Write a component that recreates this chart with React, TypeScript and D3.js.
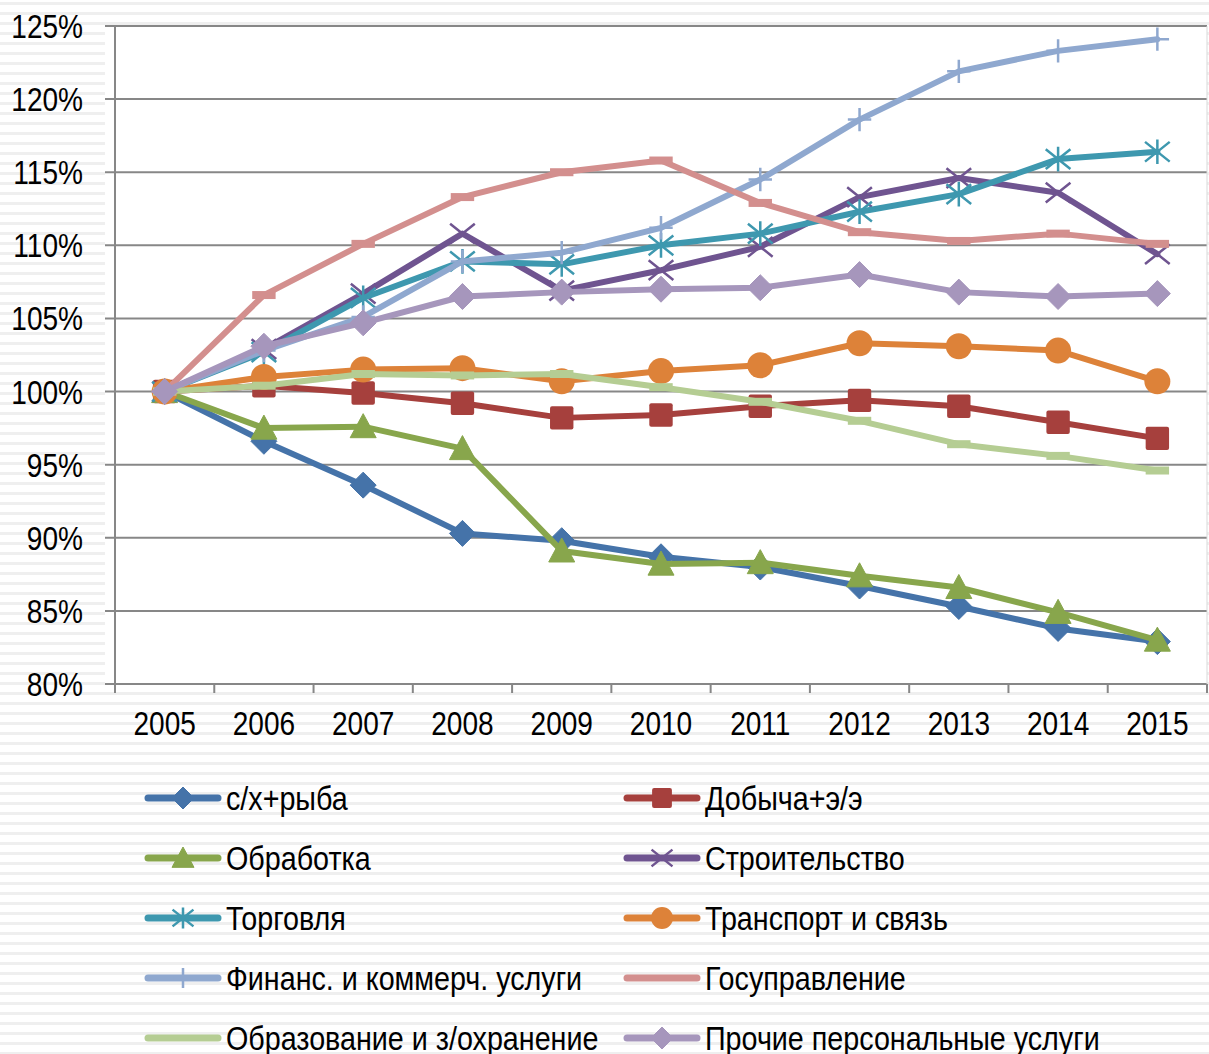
import React from 'react';
import * as d3 from 'd3';

const years = ['2005', '2006', '2007', '2008', '2009', '2010', '2011', '2012', '2013', '2014', '2015'];
const yTickValues = [80, 85, 90, 95, 100, 105, 110, 115, 120, 125];

const agriFish = [100, 96.6, 93.6, 90.3, 89.8, 88.7, 88.0, 86.7, 85.3, 83.8, 82.9];
const miningEnergy = [100, 100.4, 99.9, 99.2, 98.2, 98.4, 99.0, 99.4, 99.0, 97.9, 96.8];
const manufacturing = [100, 97.5, 97.6, 96.1, 89.1, 88.2, 88.3, 87.4, 86.6, 84.9, 83.0];
const construction = [100, 102.9, 106.7, 110.8, 106.9, 108.3, 109.9, 113.3, 114.6, 113.6, 109.4];
const trade = [100, 102.7, 106.4, 108.9, 108.7, 110.0, 110.8, 112.3, 113.5, 115.9, 116.4];
const transport = [100, 101.0, 101.5, 101.6, 100.7, 101.4, 101.8, 103.3, 103.1, 102.8, 100.7];
const finance = [100, 102.8, 105.1, 108.9, 109.5, 111.2, 114.5, 118.6, 121.9, 123.3, 124.1];
const government = [100, 106.6, 110.1, 113.3, 115.0, 115.8, 112.9, 110.9, 110.3, 110.8, 110.1];
const education = [100, 100.4, 101.2, 101.1, 101.2, 100.3, 99.3, 98.0, 96.4, 95.6, 94.6];
const otherServices = [100, 103.1, 104.7, 106.5, 106.8, 107.0, 107.1, 108.0, 106.8, 106.5, 106.7];

const seriesNames = [
  'с/х+рыба',
  'Добыча+э/э',
  'Обработка',
  'Строительство',
  'Торговля',
  'Транспорт и связь',
  'Финанс. и коммерч. услуги',
  'Госуправление',
  'Образование и з/охранение',
  'Прочие персональные услуги',
];
const seriesValues = [agriFish, miningEnergy, manufacturing, construction, trade, transport, finance, government, education, otherServices];
const seriesColors = ['#4573A9', '#A6403D', '#88A64C', '#6F5490', '#3E98AF', '#DD8239', '#8FA8CF', '#D38F8E', '#B5CD93', '#A696BC'];
const seriesMarkers = ['diamond', 'square', 'triangle', 'x', 'asterisk', 'circle', 'plus', 'dash', 'dash', 'diamond'];

const W = 1209;
const H = 1054;
const FONT = '"Liberation Sans Narrow", "Arial Narrow", "Liberation Sans", Arial, sans-serif';
const AXIS_SX = 0.85;
const LEGEND_SX = 0.87;

function Marker({ type, cx, cy, s, color }: { type: string; cx: number; cy: number; s: number; color: string }) {
  const h = s / 2;
  switch (type) {
    case 'diamond':
      return <path d={`M${cx},${cy - h}L${cx + h},${cy}L${cx},${cy + h}L${cx - h},${cy}Z`} fill={color} stroke={color} strokeWidth={1} strokeLinejoin="round" />;
    case 'square':
      return <rect x={cx - h * 0.9} y={cy - h * 0.9} width={s * 0.9} height={s * 0.9} rx={2} fill={color} />;
    case 'triangle':
      return <path d={`M${cx},${cy - h}L${cx + h},${cy + h * 0.85}L${cx - h},${cy + h * 0.85}Z`} fill={color} stroke={color} strokeWidth={1} strokeLinejoin="round" />;
    case 'circle':
      return <circle cx={cx} cy={cy} r={h} fill={color} />;
    case 'x': {
      const a = h * 0.95;
      return <path d={`M${cx - a},${cy - a * 0.8}L${cx + a},${cy + a * 0.8}M${cx - a},${cy + a * 0.8}L${cx + a},${cy - a * 0.8}`} stroke={color} strokeWidth={2.5} fill="none" />;
    }
    case 'asterisk': {
      const a = h * 0.95;
      return <path d={`M${cx - a},${cy - a * 0.8}L${cx + a},${cy + a * 0.8}M${cx - a},${cy + a * 0.8}L${cx + a},${cy - a * 0.8}M${cx},${cy - a}L${cx},${cy + a}`} stroke={color} strokeWidth={2.5} fill="none" />;
    }
    case 'plus': {
      const a = h * 0.9;
      return <path d={`M${cx - a},${cy}L${cx + a},${cy}M${cx},${cy - a}L${cx},${cy + a}`} stroke={color} strokeWidth={2.5} fill="none" />;
    }
    case 'dash':
      return <rect x={cx - h * 0.9} y={cy - 4} width={s * 0.9} height={8} fill={color} />;
    default:
      return null;
  }
}

function NarrowText({ x, y, sx, anchor, children }: { x: number; y: number; sx: number; anchor: string; children: React.ReactNode }) {
  return (
    <text transform={`translate(${x},${y}) scale(${sx},1)`} textAnchor={anchor} fontSize={33} fill="#000">
      {children}
    </text>
  );
}

export default function App() {
  const x = d3.scaleBand<string>().domain(years).range([115, 1207]);
  const y = d3.scaleLinear().domain([80, 125]).range([684, 26]);
  const cx = (yr: string) => (x(yr) as number) + x.bandwidth() / 2;
  const line = d3
    .line<number>()
    .x((_, i) => cx(years[i]))
    .y((v) => y(v));

  const boundaries = years.map((yr) => x(yr) as number).concat([1207]);

  const legendCols = [148, 627];
  const legendRowY = (r: number) => 798 + r * 60;

  return (
    <svg width={W} height={H} style={{ position: 'absolute', left: 0, top: 0 }} fontFamily={FONT}>
      <defs>
        <pattern id="stripes" width={10} height={10} patternUnits="userSpaceOnUse">
          <rect width={10} height={10} fill="#ffffff" />
          <rect y={2} width={10} height={3} fill="#efefef" />
        </pattern>
      </defs>
      <rect width={W} height={H} fill="url(#stripes)" />
      <rect x={105} y={26} width={1102} height={660} fill="#ffffff" />

      {yTickValues.map((v) => (
        <line key={v} x1={105} x2={1207} y1={y(v)} y2={y(v)} stroke="#878787" strokeWidth={2} />
      ))}
      <line x1={1207} x2={1207} y1={26} y2={693} stroke="#d9d9d9" strokeWidth={1} />
      <line x1={115} x2={115} y1={26} y2={693} stroke="#878787" strokeWidth={2} />
      {boundaries.map((b, i) => (
        <line key={i} x1={b} x2={b} y1={684} y2={693} stroke="#878787" strokeWidth={2} />
      ))}
      {yTickValues.map((v) => (
        <NarrowText key={v} x={83} y={y(v) + 12} sx={AXIS_SX} anchor="end">
          {v}%
        </NarrowText>
      ))}
      {years.map((yr) => (
        <NarrowText key={yr} x={cx(yr)} y={735} sx={AXIS_SX} anchor="middle">
          {yr}
        </NarrowText>
      ))}

      {seriesValues.map((vals, si) => (
        <g key={si}>
          <path d={line(vals) || ''} fill="none" stroke={seriesColors[si]} strokeWidth={6} strokeLinejoin="round" strokeLinecap="round" />
          {vals.map((v, i) => (
            <Marker key={i} type={seriesMarkers[si]} cx={cx(years[i])} cy={y(v)} s={26} color={seriesColors[si]} />
          ))}
        </g>
      ))}

      {seriesNames.map((name, si) => {
        const col = si % 2;
        const row = Math.floor(si / 2);
        const lx = legendCols[col];
        const ly = legendRowY(row);
        const showMarker = seriesMarkers[si] !== 'dash';
        return (
          <g key={si}>
            <line x1={lx} x2={lx + 70} y1={ly} y2={ly} stroke={seriesColors[si]} strokeWidth={7} strokeLinecap="round" />
            {showMarker && <Marker type={seriesMarkers[si]} cx={lx + 35} cy={ly} s={22} color={seriesColors[si]} />}
            <NarrowText x={lx + 78} y={ly + 12} sx={LEGEND_SX} anchor="start">
              {name}
            </NarrowText>
          </g>
        );
      })}
    </svg>
  );
}
